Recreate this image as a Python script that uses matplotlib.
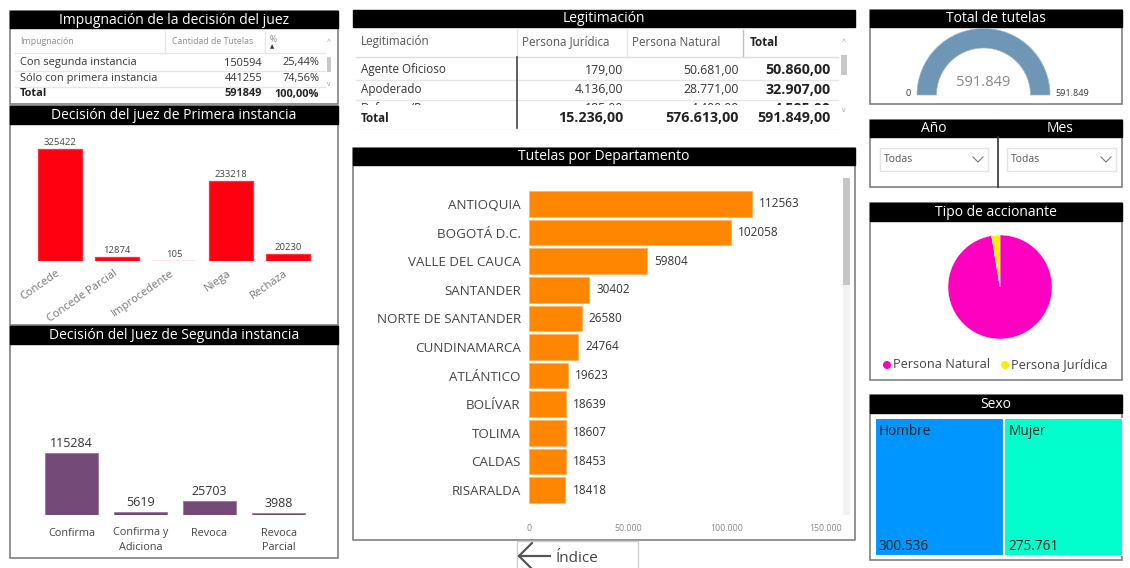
import matplotlib.pyplot as plt
from matplotlib.patches import Rectangle, Wedge, Circle
import matplotlib.transforms as mtransforms

plt.rcParams['font.family'] = ['Open Sans', 'DejaVu Sans']

# Datos
impug_filas = ["Con segunda instancia", "Sólo con primera instancia"]
impug_cant = [150594, 441255]
impug_pct = ["25,44%", "74,56%"]
impug_total = 591849

primera_cat = ["Concede", "Concede Parcial", "Improcedente", "Niega", "Rechaza"]
primera_val = [325422, 12874, 105, 233218, 20230]

segunda_cat = ["Confirma", "Confirma y\nAdiciona", "Revoca", "Revoca\nParcial"]
segunda_val = [115284, 5619, 25703, 3988]

leg_filas = ["Agente Oficioso", "Apoderado", "Defensor/Personero"]
leg_juridica = ["179,00", "4.136,00", "185,00"]
leg_natural = ["50.681,00", "28.771,00", "4.400,00"]
leg_total = ["50.860,00", "32.907,00", "4.585,00"]
leg_totales = ["15.236,00", "576.613,00", "591.849,00"]

deptos = ["ANTIOQUIA", "BOGOTÁ D.C.", "VALLE DEL CAUCA", "SANTANDER", "NORTE DE SANTANDER",
          "CUNDINAMARCA", "ATLÁNTICO", "BOLÍVAR", "TOLIMA", "CALDAS", "RISARALDA"]
deptos_val = [112563, 102058, 59804, 30402, 26580, 24764, 19623, 18639, 18607, 18453, 18418]
deptos_ticks = [0, 50000, 100000, 150000]
deptos_tick_lbl = ["0", "50.000", "100.000", "150.000"]

total_tutelas = 591849
tipo_cat = ["Persona Natural", "Persona Jurídica"]
tipo_val = [576613, 15236]

sexo_cat = ["Hombre", "Mujer"]
sexo_val = [300536, 275761]
sexo_lbl = ["300.536", "275.761"]

W, H = 1130, 568
fig = plt.figure(figsize=(W / 100, H / 100), dpi=100)
base = fig.add_axes([0, 0, 1, 1])
base.set_xlim(0, W)
base.set_ylim(H, 0)
base.axis('off')


def ejes(x, y, w, h):
    return fig.add_axes([x / W, 1 - (y + h) / H, w / W, h / H])


def caja(x0, y0, x1, y1, ec='#808080'):
    base.add_patch(Rectangle((x0, y0), x1 - x0, y1 - y0, fill=False, ec=ec, lw=1.2))


def titulo(x0, y0, x1, y1, txt):
    base.add_patch(Rectangle((x0, y0), x1 - x0, y1 - y0, fc='black', ec='black'))
    base.text((x0 + x1) / 2, (y0 + y1) / 2 + 0.5, txt, color='white', ha='center', va='center', fontsize=10)


def linea(x0, y0, x1, y1, c='#e6e6e6', lw=1):
    base.plot([x0, x1], [y0, y1], color=c, lw=lw)


# ---------- Impugnación ----------
caja(10, 11, 338, 104)
titulo(10, 11, 338, 28, "Impugnación de la decisión del juez")
gris = '#8c8c8c'
base.text(20, 41, "Impugnación", fontsize=6.3, color=gris, va='center')
base.text(172, 41, "Cantidad de Tutelas", fontsize=6.3, color=gris, va='center')
base.text(270, 40, "%", fontsize=6.3, color=gris, va='center')
base.text(270, 47, "▲", fontsize=4, color='#333333', va='center')
linea(165, 31, 165, 53)
linea(265, 31, 265, 53)
linea(15, 53, 325, 53)
for i, f in enumerate(impug_filas):
    y = 63 + i * 15.5
    base.text(20, y, f, fontsize=7.9, color='#333333', va='center')
    base.text(262, y, str(impug_cant[i]), fontsize=7.9, color='#333333', va='center', ha='right')
    base.text(319, y, impug_pct[i], fontsize=7.9, color='#333333', va='center', ha='right')
    linea(15, y + 8, 325, y + 8)
base.text(20, 94, "Total", fontsize=7.9, color='#222222', va='center', weight='bold')
base.text(262, 94, str(impug_total), fontsize=7.9, color='#222222', va='center', ha='right', weight='bold')
base.text(319, 94, "100,00%", fontsize=7.9, color='#222222', va='center', ha='right', weight='bold')
base.add_patch(Rectangle((327, 57), 4, 15, fc='#c8c8c8', ec='none'))
base.text(329, 42, "^", fontsize=5, color='#999999', ha='center', va='center')
base.text(329, 84, "v", fontsize=5, color='#999999', ha='center', va='center')

# ---------- Primera instancia ----------
caja(10, 106, 338, 325)
titulo(10, 106, 338, 124, "Decisión del juez de Primera instancia")
ax1 = ejes(31.5, 130, 285, 131)
ax1.bar(range(len(primera_val)), primera_val, width=0.77, color='#ff0010', edgecolor='#ff3040', lw=0.9)
ax1.set_xlim(-0.5, len(primera_val) - 0.5)
ax1.set_ylim(0, max(primera_val) * 131 / 112)
for i, v in enumerate(primera_val):
    ax1.text(i, v + 5000, str(v), ha='center', va='bottom', fontsize=6.8, color='#444444')
ax1.set_xticks(range(len(primera_cat)))
ax1.set_xticklabels(primera_cat, rotation=35, ha='right', rotation_mode='anchor', fontsize=8, color='#777777')
ax1.tick_params(length=0, pad=5)
desplaza = mtransforms.ScaledTranslation(-4 / 100, 0, fig.dpi_scale_trans)
for lbl in ax1.get_xticklabels():
    lbl.set_transform(lbl.get_transform() + desplaza)
ax1.set_yticks([])
for s in ax1.spines.values():
    s.set_visible(False)
ax1.patch.set_alpha(0)

# ---------- Segunda instancia ----------
caja(10, 326, 338, 558)
titulo(10, 326, 338, 344, "Decisión del Juez de Segunda instancia")
ax2 = ejes(37, 400, 276, 115)
ax2.bar(range(len(segunda_val)), segunda_val, width=0.77, color='#744a78', edgecolor='#9a7a9d', lw=0.6)
ax2.set_xlim(-0.5, len(segunda_val) - 0.5)
ax2.set_ylim(0, max(segunda_val) * 115 / 62)
for i, v in enumerate(segunda_val):
    ax2.text(i, v + 6000, str(v), ha='center', va='bottom', fontsize=9, color='#333333')
ax2.set_xticks(range(len(segunda_cat)))
ax2.set_xticklabels(segunda_cat, fontsize=7.8, color='#444444', linespacing=1.45, va='top')
ax2.tick_params(length=0, pad=9)
ax2.set_yticks([])
for s in ax2.spines.values():
    s.set_visible(False)
ax2.patch.set_alpha(0)

# ---------- Legitimación ----------
titulo(353, 10, 855, 27, "Legitimación")
base.text(361, 42, "Legitimación", fontsize=8.4, color='#555555', va='center')
base.text(522, 42, "Persona Jurídica", fontsize=8.4, color='#555555', va='center')
base.text(632, 42, "Persona Natural", fontsize=8.4, color='#555555', va='center')
base.text(750, 42, "Total", fontsize=8.4, color='#222222', va='center', weight='bold')
linea(517, 30, 517, 57)
linea(627, 30, 627, 57)
linea(743, 30, 743, 57, c='#c0c0c0')
linea(356, 57, 838, 57, c='#dddddd')
for i, f in enumerate(leg_filas):
    y = 70 + i * 19.5
    base.text(361, y, f, fontsize=8.4, color='#333333', va='center')
    base.text(623, y, leg_juridica[i], fontsize=8.8, color='#333333', va='center', ha='right')
    base.text(739, y, leg_natural[i], fontsize=8.8, color='#333333', va='center', ha='right')
    base.text(831, y, leg_total[i], fontsize=10.3, color='#222222', va='center', ha='right', weight='bold')
    if i < 2:
        linea(356, y + 10, 838, y + 10)
# tapa la fila cortada por el scroll
base.add_patch(Rectangle((353, 105), 488, 24, fc='white', ec='none', zorder=4))
base.text(361, 118, "Total", fontsize=8.4, color='#222222', va='center', weight='bold', zorder=5)
base.text(623, 118, leg_totales[0], fontsize=10.3, color='#222222', va='center', ha='right', weight='bold', zorder=5)
base.text(739, 118, leg_totales[1], fontsize=10.3, color='#222222', va='center', ha='right', weight='bold', zorder=5)
base.text(831, 118, leg_totales[2], fontsize=10.3, color='#222222', va='center', ha='right', weight='bold', zorder=5)
base.plot([517, 517], [57, 128], color='#444444', lw=1.2, zorder=6)
linea(356, 128, 838, 128)
base.add_patch(Rectangle((841, 55), 6, 20, fc='#c8c8c8', ec='none'))
base.text(844, 42, "^", fontsize=5, color='#999999', ha='center', va='center')
base.text(844, 110, "v", fontsize=5, color='#999999', ha='center', va='center', zorder=6)

# ---------- Tutelas por Departamento ----------
caja(353, 148, 855, 540)
titulo(353, 148, 855, 165, "Tutelas por Departamento")
ax3 = ejes(529, 189.7, 297, 314.6)
pos = list(range(len(deptos)))
ax3.barh(pos, deptos_val, height=0.9, color='#ff8600', edgecolor='#ffb060', lw=0.5)
ax3.set_ylim(len(deptos) - 0.5, -0.5)
ax3.set_xlim(0, 150000)
for i, v in enumerate(deptos_val):
    ax3.text(v + 3500, i, str(v), va='center', ha='left', fontsize=8.5, color='#333333')
ax3.set_yticks(pos)
ax3.set_yticklabels(deptos, fontsize=9.6, color='#444444')
ax3.set_xticks(deptos_ticks)
ax3.set_xticklabels(deptos_tick_lbl, fontsize=6.3, color='#888888')
ax3.tick_params(axis='y', length=0, pad=6)
ax3.tick_params(axis='x', length=0, pad=14)
for s in ax3.spines.values():
    s.set_visible(False)
ax3.patch.set_alpha(0)
base.add_patch(Rectangle((843, 178), 7, 337, fc='#f2f2f2', ec='none'))
base.add_patch(Rectangle((843, 178), 7, 107, fc='#c6c6c6', ec='none'))

# Botón Índice
base.add_patch(Rectangle((517, 541), 121, 40, fill=False, ec='#d0d0d0', lw=1))
base.plot([532, 519, 532], [543, 556, 569], color='#555555', lw=1.6, solid_capstyle='round')
base.plot([519, 550], [556, 556], color='#555555', lw=1.6)
base.text(556, 558, "Índice", fontsize=11, color='#444444', va='center')

# ---------- Total de tutelas (gauge) ----------
caja(870, 10, 1122, 104)
titulo(870, 10, 1122, 27, "Total de tutelas")
ax4 = ejes(903.5, 28, 160, 80)
ax4.set_xlim(-80, 80)
ax4.set_ylim(-13, 67)
ax4.set_aspect('equal')
ax4.axis('off')
ang = 180 * total_tutelas / total_tutelas
ax4.add_patch(Wedge((0, 0), 66.5, 180 - ang, 180, width=19.5, fc='#6f96b6', ec='#9cb6cc', lw=0.5))
ax4.text(0, 12, f"{total_tutelas:,}".replace(",", "."), ha='center', va='center', fontsize=10.5, color='#888888')
ax4.text(-75.5, 2, "0", ha='center', va='center', fontsize=6.5, color='#333333')
ax4.text(88.5, 2, f"{total_tutelas:,}".replace(",", "."), ha='center', va='center', fontsize=6.5, color='#333333')

# ---------- Año / Mes ----------
caja(870, 120, 1122, 187)
titulo(870, 120, 998, 137, "Año")
titulo(998, 120, 1122, 137, "Mes")
linea(998, 137, 998, 187, c='#333333', lw=1.2)
for x0, x1 in [(880, 988), (1007, 1116)]:
    base.add_patch(Rectangle((x0, 148), x1 - x0, 23, fill=False, ec='#e4e4e4', lw=1))
    base.text(x0 + 4, 160, "Todas", fontsize=7.5, color='#555555', va='center')
    base.plot([x1 - 15, x1 - 10, x1 - 5], [157, 162, 157], color='#777777', lw=0.8)

# ---------- Tipo de accionante ----------
caja(870, 203, 1122, 380)
titulo(870, 203, 1122, 221, "Tipo de accionante")
ax5 = ejes(948, 235, 104, 104)
ax5.pie(tipo_val, colors=['#ff00c0', '#f7f000'], startangle=90, counterclock=False,
        wedgeprops=dict(ec='white', lw=0.3))
ax5.set_xlim(-1, 1)
ax5.set_ylim(-1, 1)
base.add_patch(Circle((887, 365), 4, fc='#ff00c0', ec='none'))
base.text(893, 365, tipo_cat[0], fontsize=9.2, color='#444444', va='center')
base.add_patch(Circle((1005, 365), 4, fc='#f7f000', ec='none'))
base.text(1011, 365, tipo_cat[1], fontsize=9.2, color='#444444', va='center')

# ---------- Sexo (treemap) ----------
caja(870, 395, 1122, 560)
titulo(870, 395, 1122, 413, "Sexo")
ax6 = ejes(875, 418, 248, 138)
ax6.set_xlim(0, sum(sexo_val))
ax6.set_ylim(0, 1)
ax6.axis('off')
izq = 0
for nombre, v, lbl, c in zip(sexo_cat, sexo_val, sexo_lbl, ['#0096ff', '#00ffcc']):
    ax6.add_patch(Rectangle((izq, 0), v, 1, fc=c, ec='white', lw=1.5))
    ax6.text(izq + 9000, 0.9, nombre, fontsize=9.8, color='#222222', va='center')
    ax6.text(izq + 9000, 0.07, lbl, fontsize=9.8, color='#222222', va='center')
    izq += v

fig.savefig("out.png", dpi=100)
